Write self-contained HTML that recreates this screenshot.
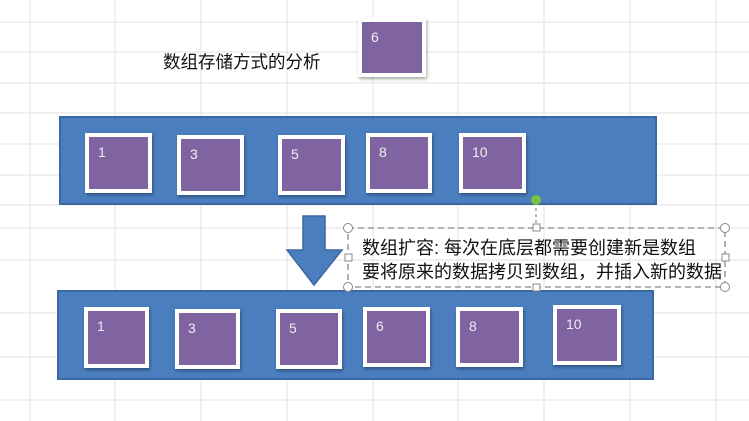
<!DOCTYPE html>
<html><head><meta charset="utf-8"><style>
body{margin:0;width:749px;height:421px;overflow:hidden;background:#fff;position:relative;font-family:"Liberation Sans","Noto Sans CJK SC",sans-serif}
.grid{position:absolute;left:0;top:0}
.bar{position:absolute;background:#4a7ebf;border:2px solid #3a689f;box-sizing:border-box}
.b{position:absolute;background:#8064a2;border:4px solid #fff;box-sizing:border-box;box-shadow:1px 2px 3px rgba(0,0,0,.35);color:#eee;font-size:14px;padding:7px 0 0 9px}
.t{position:absolute;color:#111;font-size:18px;white-space:nowrap}
</style></head><body>
<svg class="grid" width="749" height="421">
<g stroke="#e2e2e2" stroke-width="1">
<line x1="30" y1="0" x2="30" y2="421"/><line x1="115" y1="0" x2="115" y2="421"/><line x1="201" y1="0" x2="201" y2="421"/><line x1="287" y1="0" x2="287" y2="421"/><line x1="373" y1="0" x2="373" y2="421"/><line x1="458" y1="0" x2="458" y2="421"/><line x1="544" y1="0" x2="544" y2="421"/><line x1="630" y1="0" x2="630" y2="421"/><line x1="716" y1="0" x2="716" y2="421"/>
<line x1="0" y1="22" x2="749" y2="22"/><line x1="0" y1="52" x2="749" y2="52"/><line x1="0" y1="83" x2="749" y2="83"/><line x1="0" y1="113" x2="749" y2="113"/><line x1="0" y1="144" x2="749" y2="144"/><line x1="0" y1="175" x2="749" y2="175"/><line x1="0" y1="205" x2="749" y2="205"/><line x1="0" y1="228" x2="749" y2="228"/><line x1="0" y1="260" x2="749" y2="260"/><line x1="0" y1="313" x2="749" y2="313"/><line x1="0" y1="357" x2="749" y2="357"/><line x1="0" y1="400" x2="749" y2="400"/>
</g></svg>
<div class="t" style="left:163px;top:49px;font-size:17.5px">数组存储方式的分析</div>
<div class="b" style="left:358px;top:18px;width:68px;height:59px">6</div>
<div class="bar" style="left:59px;top:116px;width:598px;height:89px"></div>
<div class="b" style="left:85px;top:133px;width:67px;height:60px">1</div>
<div class="b" style="left:177px;top:135px;width:67px;height:60px">3</div>
<div class="b" style="left:278px;top:135px;width:67px;height:60px">5</div>
<div class="b" style="left:366px;top:133px;width:66px;height:60px">8</div>
<div class="b" style="left:459px;top:133px;width:67px;height:60px">10</div>
<div class="bar" style="left:57px;top:290px;width:597px;height:90px"></div>
<div class="b" style="left:84px;top:307px;width:65px;height:61px">1</div>
<div class="b" style="left:175px;top:309px;width:65px;height:60px">3</div>
<div class="b" style="left:276px;top:309px;width:66px;height:60px">5</div>
<div class="b" style="left:363px;top:307px;width:67px;height:60px">6</div>
<div class="b" style="left:456px;top:307px;width:67px;height:60px">8</div>
<div class="b" style="left:553px;top:305px;width:68px;height:60px">10</div>
<svg class="grid" width="749" height="421">
<polygon points="303,216 325,216 325,250 342,250 314,285 287,250 303,250" fill="#4a7ebf" stroke="#3a689f" stroke-width="1.5"/>
<line x1="536" y1="202" x2="536" y2="228" stroke="#777" stroke-dasharray="3,3"/>
<circle cx="536" cy="200" r="5" fill="#7ac143"/>
<rect x="348" y="228" width="377" height="59" fill="none" stroke="#888" stroke-width="1.3" stroke-dasharray="6,4"/>
<g fill="#fff" stroke="#888">
<circle cx="348" cy="228" r="4.5"/><circle cx="725" cy="228" r="4.5"/><circle cx="348" cy="287" r="4.5"/><circle cx="725" cy="287" r="4.5"/>
<rect x="533" y="224" width="7" height="7"/><rect x="533" y="284" width="7" height="7"/><rect x="345" y="254" width="7" height="7"/><rect x="722" y="254" width="7" height="7"/>
</g></svg>
<div class="t" style="left:362px;top:234px">数组扩容: 每次在底层都需要创建新是数组</div>
<div class="t" style="left:362px;top:258px">要将原来的数据拷贝到数组，并插入新的数据</div>
</body></html>
